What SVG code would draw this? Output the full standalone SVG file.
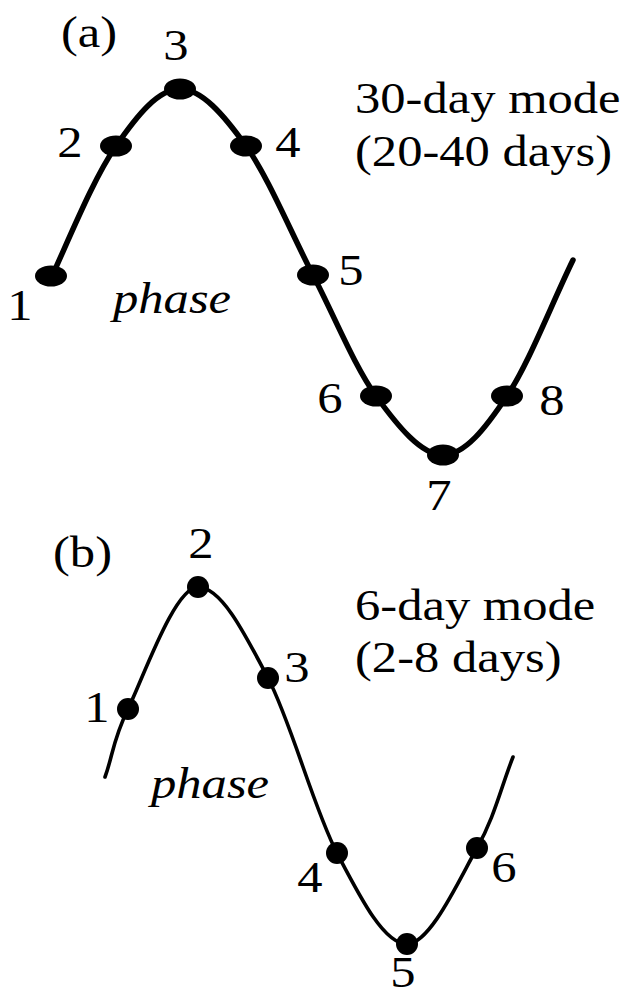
<svg xmlns="http://www.w3.org/2000/svg" width="628" height="998" viewBox="0 0 628 998">
<style>
text{font-family:"Liberation Serif","Times New Roman",serif;font-size:44px;fill:#000}
.m{text-anchor:middle}
.i{font-style:italic}
.ca{fill:none;stroke:#000;stroke-width:5.5;stroke-linecap:round}
.cb{fill:none;stroke:#000;stroke-width:3.6;stroke-linecap:round}
.d{fill:#000}
</style>
<rect width="628" height="998" fill="#fff"/>
<g id="connectors">
<path class="ca" d="M53,274 C74,227.3 94.8,176.8 116,146 C137.2,115.2 158.3,89 180,89 C201.7,89 223.8,115 246,146 C268.2,177 291.3,233.3 313,275 C334.7,316.7 354.3,366 376,396 C397.7,426 421.2,455 443,455 C464.8,455 485.3,428.5 507,396 C528.7,363.5 551,305.3 573,260"/>
<path class="cb" d="M105,777 C112.7,756.3 112.5,740.7 128,709 C143.5,677.3 174.7,587 198,587 C221.3,587 244.8,633.7 268,678 C291.2,722.3 313.8,808.7 337,853 C360.2,897.3 383.7,944 407,944 C430.3,944 459.3,879.2 477,848 C494.7,816.8 501,787.3 513,757"/>
</g>
<g id="panel-a-labels">
<text transform="translate(61 47) scale(1.15 1)">(a)</text>
<text transform="translate(355 113) scale(1.15 1)">30-day mode</text>
<text transform="translate(355 166) scale(1.15 1)">(20-40 days)</text>
<text class="i" transform="translate(113 313) scale(1.15 1)">phase</text>
</g>
<g id="a1"><ellipse class="d" cx="51" cy="276" rx="16" ry="10.5"/><text class="m" transform="translate(20 320) scale(1.15 1)">1</text></g>
<g id="a2"><ellipse class="d" cx="116" cy="146" rx="16" ry="10.5"/><text class="m" transform="translate(70 157) scale(1.15 1)">2</text></g>
<g id="a3"><ellipse class="d" cx="180" cy="89" rx="16" ry="10.5"/><text class="m" transform="translate(176 60) scale(1.15 1)">3</text></g>
<g id="a4"><ellipse class="d" cx="246" cy="146" rx="16" ry="10.5"/><text class="m" transform="translate(288 157) scale(1.15 1)">4</text></g>
<g id="a5"><ellipse class="d" cx="313" cy="275" rx="16" ry="10.5"/><text class="m" transform="translate(351 285) scale(1.15 1)">5</text></g>
<g id="a6"><ellipse class="d" cx="376" cy="396" rx="16" ry="10.5"/><text class="m" transform="translate(330 413) scale(1.15 1)">6</text></g>
<g id="a7"><ellipse class="d" cx="443" cy="455" rx="16" ry="10.5"/><text class="m" transform="translate(439 510) scale(1.15 1)">7</text></g>
<g id="a8"><ellipse class="d" cx="507" cy="396" rx="16" ry="10.5"/><text class="m" transform="translate(552 415) scale(1.15 1)">8</text></g>
<g id="panel-b-labels">
<text transform="translate(53 567) scale(1.15 1)">(b)</text>
<text transform="translate(355 620) scale(1.15 1)">6-day mode</text>
<text transform="translate(355 672) scale(1.15 1)">(2-8 days)</text>
<text class="i" transform="translate(151 798) scale(1.15 1)">phase</text>
</g>
<g id="b1"><circle class="d" cx="128" cy="709" r="11"/><text class="m" transform="translate(97 722) scale(1.15 1)">1</text></g>
<g id="b2"><circle class="d" cx="198" cy="587" r="11"/><text class="m" transform="translate(201 558) scale(1.15 1)">2</text></g>
<g id="b3"><circle class="d" cx="268" cy="678" r="11"/><text class="m" transform="translate(297 682) scale(1.15 1)">3</text></g>
<g id="b4"><circle class="d" cx="337" cy="853" r="11"/><text class="m" transform="translate(310 892) scale(1.15 1)">4</text></g>
<g id="b5"><circle class="d" cx="407" cy="944" r="11"/><text class="m" transform="translate(403 987) scale(1.15 1)">5</text></g>
<g id="b6"><circle class="d" cx="477" cy="848" r="11"/><text class="m" transform="translate(504 882) scale(1.15 1)">6</text></g>
</svg>
